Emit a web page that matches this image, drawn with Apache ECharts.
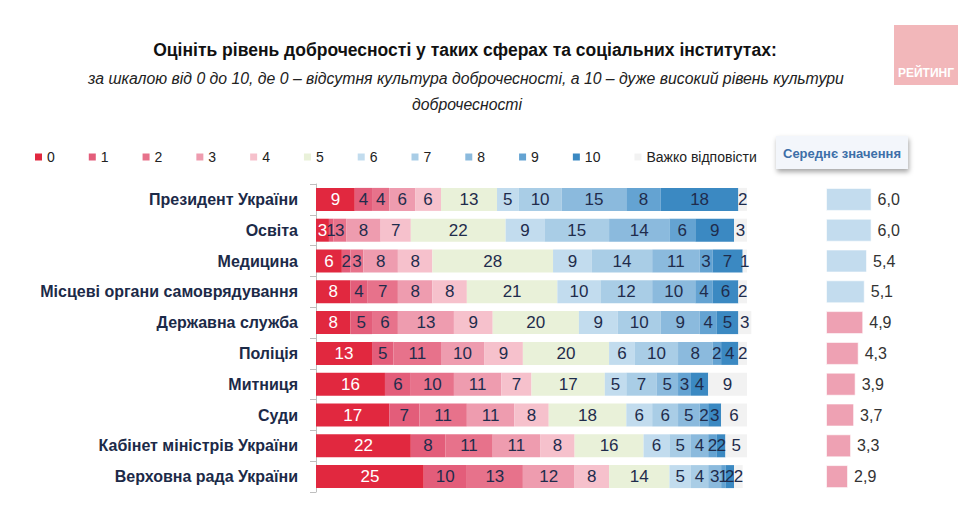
<!DOCTYPE html>
<html><head><meta charset="utf-8">
<script src="https://cdn.jsdelivr.net/npm/echarts@6/dist/echarts.min.js"></script>
<style>html,body{margin:0;padding:0;background:#fff}#c{width:960px;height:517px}</style>
</head><body><div id="c"></div>
<script>
const categories = ['Президент України','Освіта','Медицина','Місцеві органи самоврядування','Державна служба','Поліція','Митниця','Суди','Кабінет міністрів України','Верховна рада України'];
const seriesNames = ['0','1','2','3','4','5','6','7','8','9','10','Важко відповісти'];
const s0  = [9,3,6,8,8,13,16,17,22,25];
const s1  = [4,1,2,4,5,5,6,7,8,10];
const s2  = [4,3,3,7,6,11,10,11,11,13];
const s3  = [6,8,8,8,13,10,11,11,11,12];
const s4  = [6,7,8,8,9,9,7,8,8,8];
const s5  = [13,22,28,21,20,20,17,18,16,14];
const s6  = [5,9,9,10,9,6,5,6,6,5];
const s7  = [10,15,14,12,10,10,7,6,5,4];
const s8  = [15,14,11,10,9,8,5,5,4,3];
const s9  = [8,6,3,4,4,2,3,2,2,1];
const s10 = [18,9,7,6,5,4,4,3,2,2];
const sDK = [2,3,1,2,3,2,9,6,5,2];
const means = [6.0,6.0,5.4,5.1,4.9,4.3,3.9,3.7,3.3,2.9];

const colors = ['#e1283f','#e35d7a','#e7728b','#ee9caf','#f6c1cc','#e9f1d9','#c2dcee','#a9cde6','#8bbadd','#64a3d2','#3b89c2','#f2f2f2'];
const allData = [s0,s1,s2,s3,s4,s5,s6,s7,s8,s9,s10,sDK];
const narrow = '"Liberation Sans Narrow","Arial Narrow","Liberation Sans",Arial,sans-serif';
const sans = '"Liberation Sans",Arial,sans-serif';
const dark = '#1f2c4c';

const chart = echarts.init(document.getElementById('c'), null, {renderer:'svg'});
const series = allData.map((d,i)=>({
  name: seriesNames[i], type:'bar', stack:'total', xAxisIndex:0, yAxisIndex:0,
  barWidth:23, clip:false,
  itemStyle:{color:colors[i]},
  label:{show:true, position:'inside', fontFamily:narrow, fontSize:17,
    color: i===0 ? '#ffffff' : dark},
  data:d
}));
series.push({
  type:'bar', xAxisIndex:1, yAxisIndex:1, barWidth:23,
  data: means.map(v=>({value:v, itemStyle:{color: v>=5 ? '#c3dcee' : '#eea1b3', borderColor:'rgba(255,255,255,0.6)', borderWidth:1}})),
  label:{show:true, position:'right', distance:6, fontFamily:narrow, fontSize:16, color:'#333',
    formatter:p=>p.value.toFixed(1).replace('.',',')}
});

chart.setOption({
  animation:false,
  legend:{
    data: seriesNames, left:30, top:145, itemWidth:7, itemHeight:7, itemGap:34, icon:'rect',
    textStyle:{fontFamily:sans, fontSize:14, color:'#222'}
  },
  grid:[
    {left:316, width:431, top:184, height:308},
    {left:826, width:76, top:184, height:308}
  ],
  xAxis:[
    {gridIndex:0, type:'value', min:0, max:100, show:false},
    {gridIndex:1, type:'value', min:0, max:10, show:false}
  ],
  yAxis:[
    {gridIndex:0, type:'category', data:categories, inverse:true,
     axisLine:{show:true, lineStyle:{color:'#bfbfbf'}},
     axisTick:{show:true, length:6, lineStyle:{color:'#bfbfbf'}},
     axisLabel:{margin:18, fontWeight:'bold', fontSize:16, color:'#1c2a48', fontFamily:sans}},
    {gridIndex:1, type:'category', data:categories, inverse:true, show:false}
  ],
  graphic:[
    {type:'text', style:{x:465, y:50, text:'Оцініть рівень доброчесності у таких сферах та соціальних інститутах:', textAlign:'center', textVerticalAlign:'middle', font:'bold 17.5px "Liberation Sans", Arial, sans-serif', fill:'#111'}},
    {type:'text', style:{x:466, y:78, text:'за шкалою від 0 до 10, де 0 – відсутня культура доброчесності, а 10 – дуже високий рівень культури', textAlign:'center', textVerticalAlign:'middle', font:'italic 15.8px "Liberation Sans", Arial, sans-serif', fill:'#222'}},
    {type:'text', style:{x:467, y:104, text:'доброчесності', textAlign:'center', textVerticalAlign:'middle', font:'italic 15.8px "Liberation Sans", Arial, sans-serif', fill:'#222'}},
    {type:'rect', shape:{x:894, y:25, width:64, height:60}, style:{fill:'#f2b7ba'}},
    {type:'text', style:{x:926, y:73, text:'РЕЙТИНГ', textAlign:'center', textVerticalAlign:'middle', font:'bold 12px "Liberation Sans", Arial, sans-serif', fill:'#ffffff'}},
    {type:'rect', shape:{x:776, y:136, width:132, height:33}, style:{fill:'#f3f6fb', shadowBlur:5, shadowOffsetX:1, shadowOffsetY:3, shadowColor:'rgba(0,0,0,0.35)'}},
    {type:'text', style:{x:842, y:153, text:'Середнє значення', textAlign:'center', textVerticalAlign:'middle', font:'bold 13px "Liberation Sans", Arial, sans-serif', fill:'#3d6fa8'}}
  ],
  series: series
});
</script></body></html>
